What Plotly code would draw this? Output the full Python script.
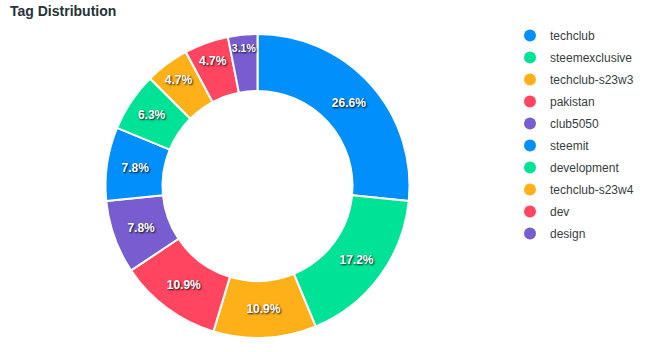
import plotly.graph_objects as go

tags = ["techclub", "steemexclusive", "techclub-s23w3", "pakistan", "club5050",
        "steemit", "development", "techclub-s23w4", "dev", "design"]
counts = [17, 11, 7, 7, 5, 5, 4, 3, 3, 2]
colors = ["#008FFB", "#00E396", "#FEB019", "#FF4560", "#775DD0",
          "#008FFB", "#00E396", "#FEB019", "#FF4560", "#775DD0"]

W, H = 648, 352
cx, cy, R = 257.5, 186, 152

fig = go.Figure()
fig.add_trace(go.Pie(
    labels=tags, values=counts, sort=False, direction="clockwise", rotation=0,
    hole=0.625,
    marker=dict(colors=colors, line=dict(color="white", width=2)),
    texttemplate="%{percent:.1%}", textposition="inside",
    insidetextorientation="horizontal",
    textfont=dict(family="Liberation Sans, Arial", size=12, color="white", weight="bold",
                  shadow="1px 1px 2px rgba(0,0,0,0.9)"),
    showlegend=False,
    domain=dict(x=[(cx - R) / W, (cx + R) / W], y=[(H - cy - R) / H, (H - cy + R) / H]),
))
for i, (t, c) in enumerate(zip(tags, colors)):
    fig.add_trace(go.Scatter(
        x=[None], y=[None], mode="markers", name=t, legendgroup=f"g{i}",
        marker=dict(symbol="circle", size=12, color=c),
    ))

fig.update_layout(
    width=W, height=H, margin=dict(l=0, r=0, t=0, b=0),
    paper_bgcolor="white", plot_bgcolor="white",
    xaxis=dict(visible=False), yaxis=dict(visible=False),
    title=dict(text="<b>Tag Distribution</b>", x=10 / W, xanchor="left", y=1 - 11 / H, yanchor="middle",
               font=dict(family="Liberation Sans, Arial", size=14, color="#263238")),
    legend=dict(x=510 / W, xanchor="left", y=1 - 21 / H, yanchor="top",
                font=dict(family="Liberation Sans, Arial", size=12, color="#373d3f"),
                tracegroupgap=3, bgcolor="rgba(0,0,0,0)"),
)
fig.write_html("out.html")
